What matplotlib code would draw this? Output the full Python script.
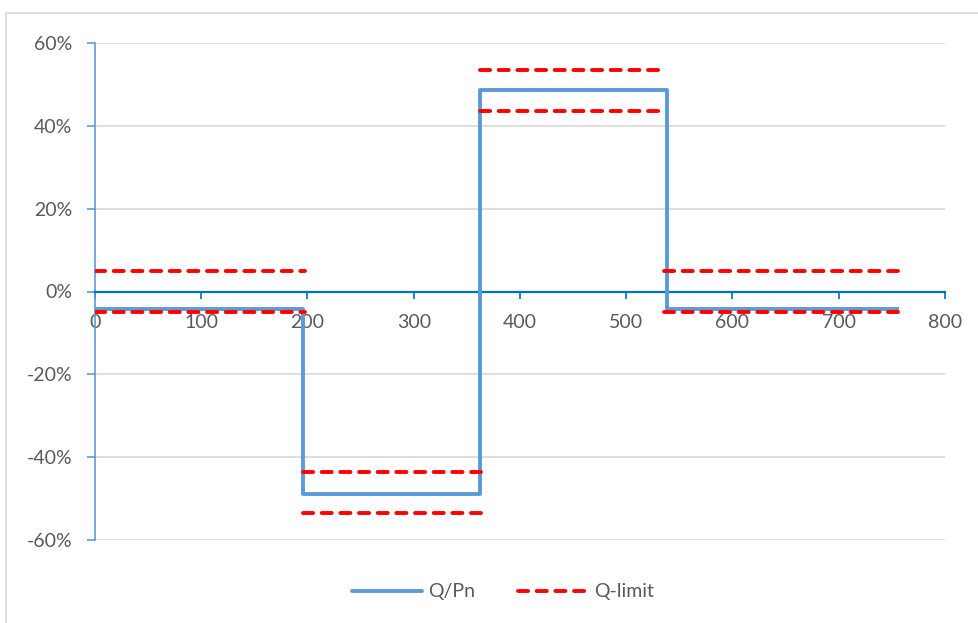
import matplotlib.pyplot as plt
from matplotlib.lines import Line2D
from matplotlib.ticker import PercentFormatter

# Q/Pn measured (step profile)
q_x = [0, 196, 196, 362, 362, 538, 538, 755]
q_y = [-4.2, -4.2, -49.0, -49.0, 48.6, 48.6, -4.2, -4.2]

# Q-limit bands: one segment per step
lim_start = [0, 196, 362, 536]
lim_end = [198, 363, 532, 756]
lim_upper = [5.0, -43.5, 53.5, 5.0]
lim_lower = [-5.0, -53.5, 43.5, -5.0]

x_ticks = [0, 100, 200, 300, 400, 500, 600, 700, 800]
y_ticks = [-60, -40, -20, 0, 20, 40, 60]

blue = '#5B9BD5'
red = '#FF0000'
txt = '#595959'

plt.rcParams['font.family'] = ['Lato', 'DejaVu Sans']
plt.rcParams['axes.unicode_minus'] = False

fig = plt.figure(figsize=(9.79, 6.23), dpi=100)
ax = fig.add_axes([95 / 979, 1 - 540 / 623, 850 / 979, 497 / 623])

# chart-area border (top + left only, as in the reference crop)
fig.add_artist(Line2D([6.5 / 979, 1], [1 - 12.5 / 623, 1 - 12.5 / 623],
                      transform=fig.transFigure, color='#D9D9D9', lw=1.2))
fig.add_artist(Line2D([6.5 / 979, 6.5 / 979], [0, 1 - 12.5 / 623],
                      transform=fig.transFigure, color='#D9D9D9', lw=1.2))

ax.plot(q_x, q_y, color=blue, lw=2.8, solid_joinstyle='round', zorder=3, label='Q/Pn')
for i in range(len(lim_start)):
    for yv in (lim_upper[i], lim_lower[i]):
        ax.plot([lim_start[i], lim_end[i]], [yv, yv], color=red, lw=2.8,
                dashes=(2.6, 2.2), dash_capstyle='round', zorder=4)

ax.set_xlim(0, 800)
ax.set_ylim(-60, 60)
ax.set_xticks(x_ticks)
ax.set_yticks(y_ticks)
ax.yaxis.set_major_formatter(PercentFormatter(decimals=0))
ax.grid(axis='y', color='#D9D9D9', lw=1.2)
ax.set_axisbelow(True)

for s in ('top', 'right'):
    ax.spines[s].set_visible(False)
ax.spines['bottom'].set_position(('data', 0))
ax.spines['bottom'].set_color('#0070C0')
ax.spines['bottom'].set_linewidth(1.6)
ax.spines['bottom'].set_zorder(2.5)
ax.spines['left'].set_color(blue)
ax.spines['left'].set_linewidth(1.2)

ax.tick_params(axis='x', direction='out', length=5, width=1.2, color='#0070C0',
               labelsize=14, labelcolor=txt, pad=11)
ax.tick_params(axis='y', direction='out', length=5.5, width=1.2, color=blue,
               labelsize=14, labelcolor=txt, pad=11)

handles = [Line2D([], [], color=blue, lw=2.8, solid_capstyle='round'),
           Line2D([], [], color=red, lw=2.8, dashes=(2.6, 2.2), dash_capstyle='round')]
fig.legend(handles, ['Q/Pn', 'Q-limit'], loc='center', bbox_to_anchor=(503 / 979, 1 - 592 / 623),
           ncol=2, frameon=False, fontsize=14, labelcolor=txt, handlelength=3.6,
           columnspacing=2.2, handletextpad=0.3)

fig.savefig('out.png', dpi=100)
